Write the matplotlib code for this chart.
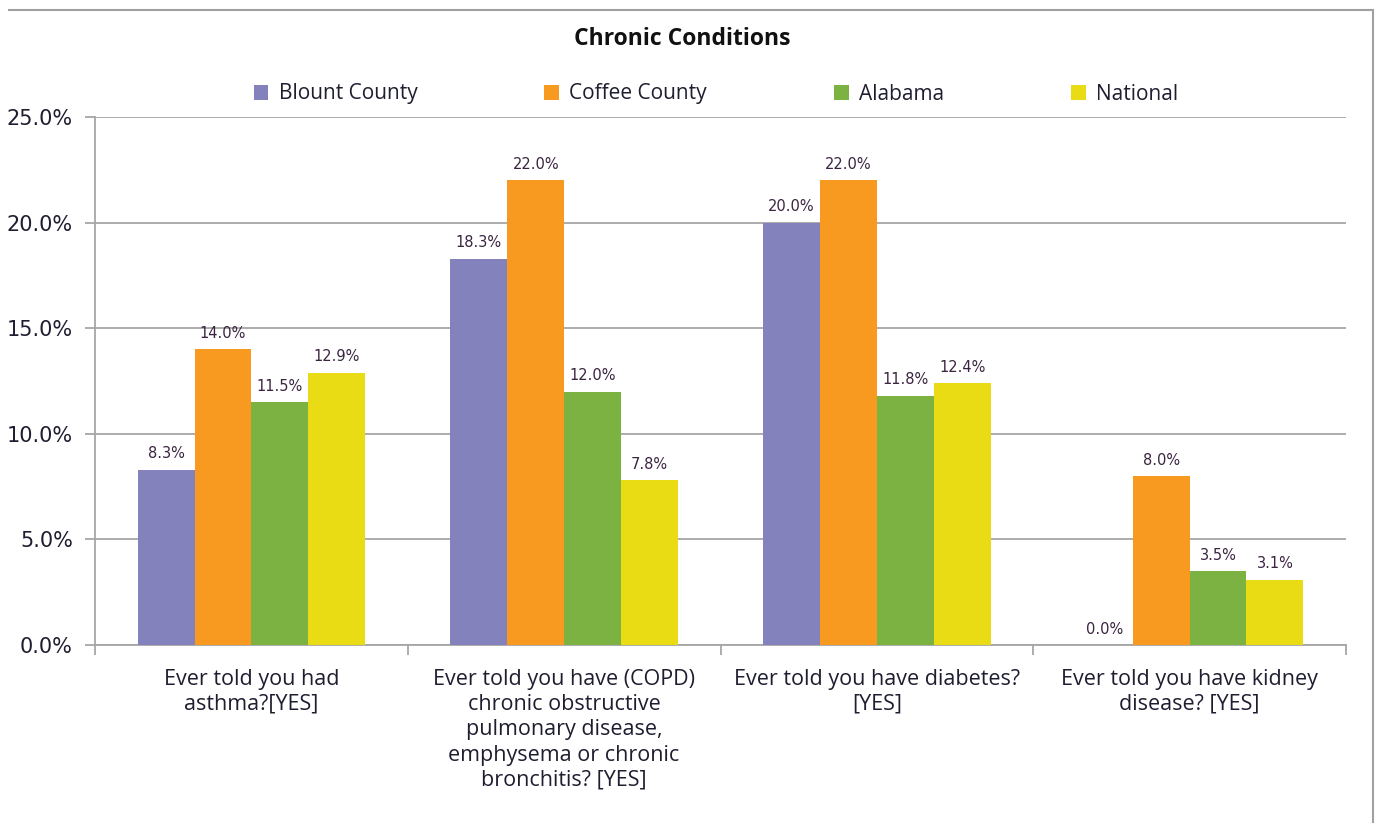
import matplotlib
matplotlib.use("Agg")
import matplotlib.pyplot as plt
import numpy as np
from matplotlib.patches import Patch
from matplotlib.lines import Line2D

categories = [
    "Ever told you had\nasthma?[YES]",
    "Ever told you have (COPD)\nchronic obstructive\npulmonary disease,\nemphysema or chronic\nbronchitis? [YES]",
    "Ever told you have diabetes?\n[YES]",
    "Ever told you have kidney\ndisease? [YES]",
]
series_names = ["Blount County", "Coffee County", "Alabama", "National"]
blount = [8.3, 18.3, 20.0, 0.0]
coffee = [14.0, 22.0, 22.0, 8.0]
alabama = [11.5, 12.0, 11.8, 3.5]
national = [12.9, 7.8, 12.4, 3.1]
y_ticks = [0, 5, 10, 15, 20, 25]

colors = ["#8482BD", "#F79A1F", "#7BB242", "#EADC14"]
grid_col = "#A6A6A6"
text_col = "#1E1E30"
label_col = "#3A2440"

W, H = 1377, 823
fig = plt.figure(figsize=(W / 100, H / 100), dpi=100)
fig.patch.set_facecolor("white")
ax = fig.add_axes([95 / W, 1 - 645 / H, (1346 - 95) / W, (645 - 117) / H])

series = [blount, coffee, alabama, national]
n = len(series)
x = np.arange(len(categories))
bw = 0.727 / n
for i, (vals, name, c) in enumerate(zip(series, series_names, colors)):
    pos = x + (i - (n - 1) / 2) * bw
    ax.bar(pos, vals, width=bw, color=c, label=name, zorder=3, linewidth=0)
    for p, v in zip(pos, vals):
        ax.annotate(f"{v:.1f}%", (p, v), xytext=(0, 6), textcoords="offset points",
                    ha="center", va="bottom", fontsize=10.5, color=label_col,
                    family="DejaVu Sans", zorder=4)

ax.set_xlim(-0.5, len(categories) - 0.5)
ax.set_ylim(0, 25)
ax.set_yticks(y_ticks)
ax.set_yticklabels([f"{t:.1f}%" for t in y_ticks], fontsize=15, color=text_col,
                   family="DejaVu Sans")
ax.yaxis.grid(True, color=grid_col, linewidth=1.3, zorder=0)
ax.tick_params(axis="y", length=7, width=1.3, color=grid_col, pad=9)

ax.set_xticks(x)
ax.set_xticklabels(categories, fontsize=15.5, color=text_col, family="Open Sans",
                   linespacing=1.27, va="top")
ax.set_xticks(np.arange(len(categories) + 1) - 0.5, minor=True)
ax.tick_params(axis="x", which="major", length=0, pad=17)
ax.tick_params(axis="x", which="minor", length=7, width=1.3, color=grid_col)

for s in ["top", "right"]:
    ax.spines[s].set_visible(False)
for s in ["left", "bottom"]:
    ax.spines[s].set_color(grid_col)
    ax.spines[s].set_linewidth(1.3)

fig.text(682 / W, 1 - 39 / H, "Chronic Conditions", ha="center", va="center",
         fontsize=16.5, fontweight="bold", color="#111111", family="Open Sans")

handles = [Patch(facecolor=c, edgecolor="none") for c in colors]
leg = fig.legend(handles, series_names, loc="center", ncol=4,
                 bbox_to_anchor=(716 / W, 1 - 94 / H), frameon=False,
                 handlelength=0.7, handleheight=0.7, handletextpad=0.5,
                 columnspacing=6.1, prop={"family": "Open Sans", "size": 15})
for t in leg.get_texts():
    t.set_color(text_col)

# outer chart border (top and right edges)
fig.add_artist(Line2D([9 / W, 1373 / W], [1 - 10 / H, 1 - 10 / H],
                      transform=fig.transFigure, color="#A0A0A0", linewidth=1.5))
fig.add_artist(Line2D([1373 / W, 1373 / W], [1 - 10 / H, 0],
                      transform=fig.transFigure, color="#A0A0A0", linewidth=1.5))

fig.savefig("out.png", dpi=100, facecolor="white")
